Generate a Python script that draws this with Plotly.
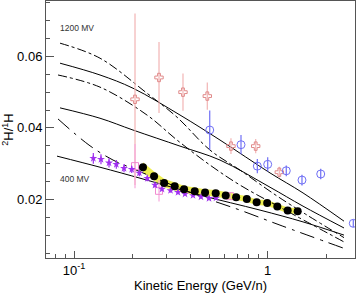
import math
import plotly.graph_objects as go

# ---- data ----
# black filled circles with yellow systematic band
bk_E = [0.227, 0.259, 0.292, 0.331, 0.370, 0.420, 0.475, 0.539, 0.607, 0.687, 0.780, 0.877, 0.994, 1.121, 1.268, 1.428]
bk_R = [0.0290, 0.0265, 0.0246, 0.0237, 0.0228, 0.0223, 0.0219, 0.0217, 0.0211, 0.0206, 0.0201, 0.0192, 0.0190, 0.0180, 0.0169, 0.0167]
bk_band = [0.0014, 0.0013, 0.0012, 0.0011, 0.0010, 0.0010, 0.0009, 0.0009, 0.0009, 0.0008, 0.0008, 0.0008, 0.0008, 0.0008, 0.0008, 0.0008]

# magenta stars
mg_E = [0.1258, 0.1378, 0.1516, 0.1654, 0.1812, 0.1986, 0.2174, 0.2389, 0.2619, 0.2846, 0.3149, 0.3442, 0.3742, 0.4115, 0.4524, 0.4977, 0.5409]
mg_R = [0.0315, 0.0312, 0.0302, 0.0298, 0.0287, 0.0284, 0.0274, 0.0259, 0.0240, 0.0229, 0.0225, 0.0220, 0.0215, 0.0211, 0.0207, 0.0203, 0.0204]
mg_err = [0.0015, 0.0014, 0.0013, 0.0012, 0.0011, 0.0010, 0.0009, 0.0008, 0.0007, 0.0006, 0.0006, 0.0006, 0.0005, 0.0005, 0.0005, 0.0005, 0.0005]

# pink open squares
pk_E = [0.2065, 0.2747, 0.639]
pk_R = [0.0293, 0.0224, 0.0209]
pk_err = [0.0062, 0.0030, 0.0010]

# red open crosses
rd_E = [0.2065, 0.2747, 0.3653, 0.4877, 0.6462, 0.867, 1.148]
rd_R = [0.0480, 0.0541, 0.0500, 0.0489, 0.0349, 0.0349, 0.0276]
rd_err = [0.0240, 0.0099, 0.0052, 0.0038, 0.0022, 0.0020, 0.0015]

# blue open circles
bl_E = [0.502, 0.728, 0.884, 1.0, 1.247, 1.503, 1.878, 2.766]
bl_R = [0.0394, 0.0353, 0.0293, 0.0298, 0.0280, 0.0254, 0.0271, 0.0133]
bl_err = [0.0055, 0.0027, 0.0020, 0.0020, 0.0015, 0.0015, 0.0015, 0.0010]

# model curves
s1_E = [0.0847, 0.1362, 0.2016, 0.3525, 0.5672, 1.028, 1.522, 2.477]
s1_R = [0.0581, 0.0548, 0.0511, 0.0436, 0.0366, 0.0274, 0.0218, 0.0139]
s2_E = [0.0847, 0.1362, 0.2016, 0.3525, 0.5672, 1.028, 1.522, 2.477]
s2_R = [0.0456, 0.0427, 0.0394, 0.0349, 0.0310, 0.0234, 0.0181, 0.0120]
s3_E = [0.0817, 0.1362, 0.2271, 0.4471, 0.9127, 1.522, 2.477]
s3_R = [0.0321, 0.0290, 0.0257, 0.0212, 0.0170, 0.0137, 0.0100]
d1_E = [0.0847, 0.1362, 0.2381, 0.3402, 0.5036, 0.7194, 1.157, 2.477]
d1_R = [0.0637, 0.0595, 0.0497, 0.0430, 0.0338, 0.0282, 0.0204, 0.0093]
d2_E = [0.0827, 0.1362, 0.2381, 0.3402, 0.5036, 0.7194, 1.157, 2.477]
d2_R = [0.0548, 0.0514, 0.0436, 0.0366, 0.0296, 0.0240, 0.0178, 0.0081]
d3_E = [0.0827, 0.1195, 0.1590, 0.1993, 0.2780, 0.4471, 0.7194, 1.157, 2.477]
d3_R = [0.0425, 0.0352, 0.0310, 0.0287, 0.0254, 0.0209, 0.0170, 0.0128, 0.0063]

x_tickvals = [0.1, 1]
x_ticktext = ["10<sup>-1</sup>", "1"]
y_tickvals = [0.02, 0.04, 0.06]
y_ticktext = ["0.02", "0.04", "0.06"]

fig = go.Figure()

# yellow band
fig.add_trace(go.Scatter(
    x=bk_E + bk_E[::-1],
    y=[r + b for r, b in zip(bk_R, bk_band)] + [r - b for r, b in zip(bk_R[::-1], bk_band[::-1])],
    fill="toself", fillcolor="rgba(235,235,50,0.85)", line=dict(width=0),
    mode="lines", hoverinfo="skip", showlegend=False))

# curves
for xs, ys, dash in [(s1_E, s1_R, "solid"), (s2_E, s2_R, "solid"), (s3_E, s3_R, "solid"),
                     (d1_E, d1_R, "dashdot"), (d2_E, d2_R, "dashdot"), (d3_E, d3_R, "longdashdot")]:
    fig.add_trace(go.Scatter(x=xs, y=ys, mode="lines", line_shape="spline",
                             line=dict(color="black", width=1, dash=dash), showlegend=False))

# data points
fig.add_trace(go.Scatter(x=rd_E, y=rd_R, mode="markers",
                         marker=dict(symbol="cross-open", size=7, color="#e08a8a", line=dict(width=1)),
                         error_y=dict(type="data", array=rd_err, color="#f2b4b4", thickness=1.2, width=0),
                         showlegend=False))
fig.add_trace(go.Scatter(x=pk_E, y=pk_R, mode="markers",
                         marker=dict(symbol="square-open", size=7, color="#f28ad0", line=dict(width=1)),
                         error_y=dict(type="data", array=pk_err, color="#f7a8dc", thickness=1.2, width=0),
                         showlegend=False))
fig.add_trace(go.Scatter(x=bl_E, y=bl_R, mode="markers",
                         marker=dict(symbol="circle-open", size=8, color="#6f6ff5", line=dict(width=1)),
                         error_y=dict(type="data", array=bl_err, color="#6f6ff5", thickness=1.2, width=0),
                         showlegend=False))
fig.add_trace(go.Scatter(x=mg_E, y=mg_R, mode="markers",
                         marker=dict(symbol="star", size=6, color="#a030f0"),
                         error_y=dict(type="data", array=mg_err, color="#a030f0", thickness=1.2, width=0),
                         showlegend=False))
fig.add_trace(go.Scatter(x=bk_E, y=bk_R, mode="markers",
                         marker=dict(symbol="circle", size=8, color="black"),
                         showlegend=False))

fig.add_annotation(x=math.log10(0.0827), y=0.068, text="1200 MV", showarrow=False, xanchor="left",
                   font=dict(size=8.5, color="#333", family="Liberation Sans"))
fig.add_annotation(x=math.log10(0.0827), y=0.0256, text="400 MV", showarrow=False, xanchor="left",
                   font=dict(size=8.5, color="#333", family="Liberation Sans"))

minor_x = [0.08, 0.09, 0.2, 0.3, 0.4, 0.5, 0.6, 0.7, 0.8, 0.9, 2]
fig.update_layout(
    width=360, height=294,
    margin=dict(l=46, r=5, t=1, b=36),
    plot_bgcolor="white", paper_bgcolor="white",
    font=dict(family="Liberation Sans, Arial", size=13, color="black"),
    xaxis=dict(type="log", range=[-1.1446, 0.4507], tickmode="array",
               tickvals=x_tickvals, ticktext=x_ticktext,
               ticks="inside", ticklen=7, tickcolor="#555", showgrid=False, zeroline=False,
               showline=True, linecolor="#555", linewidth=1, mirror=True,
               minor=dict(tickmode="array", tickvals=minor_x, ticks="inside", ticklen=4, tickcolor="#555"),
               title=dict(text="Kinetic Energy (GeV/n)", font=dict(size=13), standoff=2)),
    yaxis=dict(range=[0.0036, 0.0755], tickmode="array",
               tickvals=y_tickvals, ticktext=y_ticktext,
               ticks="inside", ticklen=8, tickcolor="#555", showgrid=False, zeroline=False,
               showline=True, linecolor="#555", linewidth=1, mirror=True,
               minor=dict(tickmode="linear", tick0=0, dtick=0.005, ticks="inside", ticklen=4, tickcolor="#555"),
               title=dict(text="<sup>2</sup>H/<sup>1</sup>H", font=dict(size=13), standoff=2)),
)

fig.write_html("out.html", config={"displayModeBar": False},
               post_script="document.body.style.margin='0px';")
